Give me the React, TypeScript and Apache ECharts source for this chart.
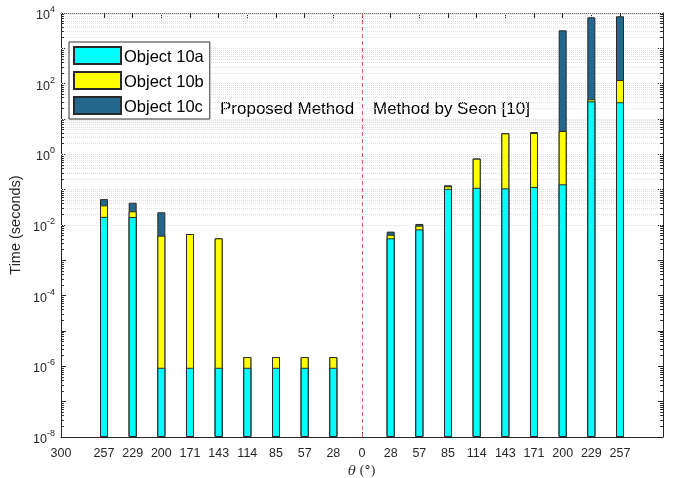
import React, { useEffect, useRef } from "react";
import * as echarts from "echarts";

// x tick positions and their labels (angle θ in degrees)
const xTickPositions = [-0.5, 1, 2, 3, 4, 5, 6, 7, 8, 9, 10, 11, 12, 13, 14, 15, 16, 17, 18, 19];
const xTickLabels = ["300", "257", "229", "200", "171", "143", "114", "85", "57", "28", "0", "28", "57", "85", "114", "143", "171", "200", "229", "257"];

// Bar positions
const proposedPositions = [1, 2, 3, 4, 5, 6, 7, 8, 9];
const seonPositions = [11, 12, 13, 14, 15, 16, 17, 18, 19];

// Proposed method: time per object (seconds)
const propA = [0.017, 0.0168, 9.1e-7, 9.1e-7, 9.1e-7, 9.1e-7, 9.1e-7, 9.1e-7, 9.1e-7];
const propB = [0.019, 0.0076, 0.005, 0.00556, 0.00419, 9.2e-7, 9.2e-7, 9.2e-7, 9.2e-7];
const propC = [0.018, 0.0183, 0.0179, 0, 0, 0, 0, 0, 0];

// Method by Seon [10]: time per object (seconds)
const seonA = [0.0042, 0.0075, 0.106, 0.113, 0.109, 0.119, 0.142, 31.6, 29.7];
const seonB = [0.0011, 0.0021, 0.019, 0.64, 3.83, 3.88, 4.43, 4.5, 97];
const seonC = [0.0012, 0.0011, 0.008, 0.01, 0.04, 0.28, 3230, 7520, 7940];

const seriesNames = ["Object 10a", "Object 10b", "Object 10c"];
const seriesColors = ["#00FFFF", "#FFFF00", "#23688C"];

const yMin = 1e-8;
const yMax = 1e4;
const xMin = -0.5;
const xMax = 20.5;
const dividerPosition = 10;

export default function App() {
  const ref = useRef<HTMLDivElement>(null);

  useEffect(() => {
    if (!ref.current) return;
    const chart = echarts.init(ref.current, undefined, { renderer: "svg" });

    const positions = [...proposedPositions, ...seonPositions];
    const a = [...propA, ...seonA];
    const b = [...propB, ...seonB];
    const c = [...propC, ...seonC];
    // cumulative heights of the stacked segments
    const cumA = a.map((v) => v);
    const cumB = a.map((v, i) => v + b[i]);
    const cumC = a.map((v, i) => v + b[i] + c[i]);
    const cums = [cumA, cumB, cumC];

    // grid lines at 1..9 x 10^k
    const gridVals: number[] = [];
    const minorVals: number[] = [];
    for (let k = -8; k < 4; k++) {
      for (let m = 1; m <= 9; m++) {
        gridVals.push(m * Math.pow(10, k));
        if (m > 1) minorVals.push(m * Math.pow(10, k));
      }
    }
    gridVals.push(1e4);

    const minorTickLen = 0.1;
    const minorTicks: any[] = [];
    minorVals.forEach((v) => {
      minorTicks.push([{ coord: [xMin, v] }, { coord: [xMin + minorTickLen, v] }]);
      minorTicks.push([{ coord: [xMax - minorTickLen, v] }, { coord: [xMax, v] }]);
    });

    const labelFor = (v: number) => {
      let best = 0;
      let bd = Infinity;
      xTickPositions.forEach((p, i) => {
        const d = Math.abs(p - v);
        if (d < bd) { bd = d; best = i; }
      });
      return bd < 0.01 ? xTickLabels[best] : "";
    };

    const tickPositions = xTickPositions.filter((p) => p >= 0);
    const axisColor = "#262626";
    const font = "Liberation Sans, Arial, Helvetica, sans-serif";

    // draw tallest (total) first so lower segments lie on top
    const barSeries = [2, 1, 0].map((si) => ({
      name: seriesNames[si],
      type: "bar",
      barWidth: 8,
      barGap: "-100%",
      z: 3,
      itemStyle: { color: seriesColors[si], borderColor: "#2a2a2a", borderWidth: 1 },
      data: positions.map((p, i) => [p, cums[si][i]]),
    }));

    const option: any = {
      animation: false,
      textStyle: { fontFamily: font },
      grid: { left: 61, right: 13, top: 13, bottom: 41, containLabel: false, outerBoundsMode: "none" },
      legend: {
        orient: "vertical",
        left: 69,
        top: 42,
        itemWidth: 47,
        itemHeight: 17,
        itemGap: 6,
        padding: [4, 6, 4, 4],
        backgroundColor: "#fff",
        borderColor: "#333",
        borderWidth: 1,
        z: 10,
        textStyle: { fontSize: 16.5, color: "#000", fontFamily: font, padding: [0, 0, 0, -2] },
        data: seriesNames.map((n) => ({ name: n, icon: "rect" })),
      },
      xAxis: [
        {
          type: "value",
          min: xMin,
          max: xMax,
          name: "{t|θ} {n|(°)}",
          nameLocation: "middle",
          nameGap: 26,
          nameTextStyle: {
            rich: {
              t: { fontFamily: "DejaVu Serif, serif", fontStyle: "italic", fontSize: 13, color: "#262626" },
              n: { fontSize: 13, color: "#262626", fontFamily: "DejaVu Serif, serif" },
            },
          },
          axisLine: { show: true, onZero: false, lineStyle: { color: axisColor } },
          axisTick: { show: true, inside: true, length: 5, customValues: tickPositions, lineStyle: { color: axisColor } },
          axisLabel: { customValues: xTickPositions, formatter: (v: number) => labelFor(v), fontSize: 12.5, color: "#262626", margin: 9 },
          splitLine: { show: false },
        },
        {
          type: "value",
          position: "top",
          min: xMin,
          max: xMax,
          axisLine: { show: true, onZero: false, lineStyle: { color: "#6a6a6a" } },
          axisTick: { show: true, inside: true, length: 5, customValues: tickPositions, lineStyle: { color: axisColor } },
          axisLabel: { show: false },
          splitLine: { show: false },
        },
      ],
      yAxis: [
        {
          type: "log",
          logBase: 10,
          min: yMin,
          max: yMax,
          interval: 1,
          startValue: yMin,
          name: "Time (seconds)",
          nameLocation: "middle",
          nameGap: 31,
          nameTextStyle: { fontSize: 14.5, color: "#262626" },
          axisLine: { show: true, onZero: false, lineStyle: { color: axisColor } },
          axisTick: { show: true, inside: true, length: 5, lineStyle: { color: axisColor } },
          axisLabel: {
            color: "#262626",
            margin: 6,
            formatter: (v: number) => {
              const e = Math.round(Math.log10(v));
              if (e % 2 !== 0) return "";
              return `{b|10}{s|${e}}`;
            },
            rich: {
              b: { fontSize: 12.5, color: "#262626", padding: [4, 0, 0, 0] },
              s: { fontSize: 9, color: "#262626", padding: [0, 0, 8, 0] },
            },
          },
          splitLine: { show: false },
        },
        {
          type: "log",
          logBase: 10,
          min: yMin,
          max: yMax,
          interval: 1,
          position: "right",
          axisLine: { show: true, onZero: false, lineStyle: { color: axisColor } },
          axisTick: { show: true, inside: true, length: 5, lineStyle: { color: axisColor } },
          axisLabel: { show: false },
          splitLine: { show: false },
        },
      ],
      graphic: [
        { type: "text", left: 220, top: 100, style: { text: "Proposed Method", fontSize: 17, fill: "#000", fontFamily: font } },
        { type: "text", left: 373, top: 100, style: { text: "Method by Seon [10]", fontSize: 17, fill: "#000", fontFamily: font } },
      ],
      series: [
        {
          name: "grid",
          type: "line",
          data: [],
          silent: true,
          markLine: {
            silent: true,
            z: 1,
            symbol: "none",
            label: { show: false },
            lineStyle: { color: "#e0e0e0", type: [1, 1], width: 1 },
            data: gridVals.map((v) => ({ yAxis: v })),
          },
        },
        {
          name: "minorTicks",
          type: "line",
          data: [],
          silent: true,
          markLine: {
            silent: true,
            z: 4,
            symbol: "none",
            label: { show: false },
            lineStyle: { color: axisColor, type: "solid", width: 1 },
            data: minorTicks,
          },
        },
        {
          name: "divider",
          type: "line",
          data: [],
          silent: true,
          markLine: {
            silent: true,
            z: 4,
            symbol: "none",
            label: { show: false },
            lineStyle: { color: "#d9605f", type: [4, 3], width: 1 },
            data: [{ xAxis: dividerPosition }],
          },
        },
        ...barSeries,
      ],
    };

    chart.setOption(option);
    return () => chart.dispose();
  }, []);

  return <div ref={ref} style={{ position: "fixed", left: 0, top: 0, width: 676, height: 478 }} />;
}
